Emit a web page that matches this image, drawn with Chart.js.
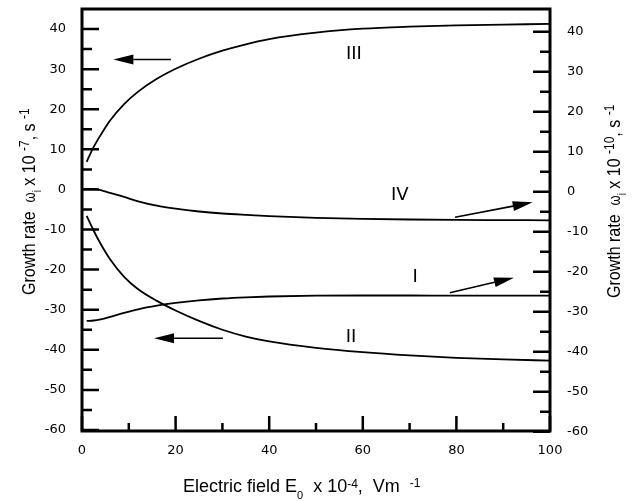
<!DOCTYPE html>
<html>
<head>
<meta charset="utf-8">
<script src="https://cdn.jsdelivr.net/npm/chart.js@4.4.0/dist/chart.umd.min.js"></script>
<style>
  html, body { margin: 0; padding: 0; background: #fff; }
</style>
</head>
<body>
<canvas id="growthChart" width="632" height="501"></canvas>
<script>
// values (E0 x 10^-4 V/m)
const field = [1, 2.5, 4, 6, 9, 12, 16, 20, 25, 30, 35, 40, 50, 60, 70, 80, 90, 100];
const curveII = [-6.6, -10.3, -13.6, -17.4, -21.8, -24.9, -27.8, -30.2, -32.8, -35.0, -36.7, -37.9, -39.5, -40.6, -41.4, -42.0, -42.4, -42.7];
const curveIII = [6.9, 10.6, 13.6, 17.2, 21.3, 24.4, 27.6, 30.1, 32.6, 34.6, 36.2, 37.5, 39.1, 40.1, 40.6, 40.9, 41.1, 41.3];
const curveI = [-32.3, -32.2, -31.9, -31.3, -30.3, -29.4, -28.5, -27.8, -27.15, -26.7, -26.4, -26.2, -26.0, -25.95, -25.95, -26.0, -26.0, -26.0];
const fieldIV = [0.3, 2.5, 4, 6, 9, 12, 16, 20, 25, 30, 35, 40, 50, 60, 70, 80, 90, 100];
const curveIV = [0.7, 0.7, 0.4, -0.3, -1.3, -2.4, -3.5, -4.25, -4.95, -5.45, -5.8, -6.1, -6.55, -6.8, -6.95, -7.05, -7.1, -7.15];

// axis ticks
const xMajor = [0, 20, 40, 60, 80, 100];
const xMinor = [10, 30, 50, 70, 90];
const yMajor = [-60, -50, -40, -30, -20, -10, 0, 10, 20, 30, 40];
const yMinor = [-55, -45, -35, -25, -15, -5, 5, 15, 25, 35];

// curve labels and arrows, in data units
const curveLabels = [
  { text: 'III', x: 58.1, y: 33.8, axis: 'yLeft' },
  { text: 'IV', x: 67.9, y: -0.8, axis: 'yRight' },
  { text: 'I', x: 71.2, y: -21.3, axis: 'yRight' },
  { text: 'II', x: 57.5, y: -36.8, axis: 'yLeft' }
];
const arrows = [
  { from: [19.0, 32.4], to: [6.7, 32.4], axis: 'yLeft' },
  { from: [30.1, -37.1], to: [15.4, -37.1], axis: 'yLeft' },
  { from: [79.7, -6.4], to: [96.3, -2.65], axis: 'yRight' },
  { from: [78.6, -25.25], to: [92.3, -21.5], axis: 'yRight' }
];

const FONT = 'DejaVu Sans';
const TITLE_FONT = 'Liberation Sans';

function toPoints(xs, ys) {
  return xs.map((v, i) => ({ x: v, y: ys[i] }));
}

function richText(ctx, parts) {
  let cx = 0;
  for (const p of parts) {
    ctx.font = p.size + 'px ' + TITLE_FONT;
    ctx.fillText(p.text, cx, p.dy || 0);
    cx += ctx.measureText(p.text).width;
  }
}

function drawArrow(ctx, x0, y0, x1, y1) {
  const ang = Math.atan2(y1 - y0, x1 - x0);
  const head = 20, half = 5;
  const bx = x1 - head * Math.cos(ang), by = y1 - head * Math.sin(ang);
  ctx.beginPath();
  ctx.moveTo(x0, y0);
  ctx.lineTo(bx, by);
  ctx.stroke();
  ctx.beginPath();
  ctx.moveTo(x1, y1);
  ctx.lineTo(bx + half * Math.sin(ang), by - half * Math.cos(ang));
  ctx.lineTo(bx - half * Math.sin(ang), by + half * Math.cos(ang));
  ctx.closePath();
  ctx.fill();
}

function yTitleParts(exp) {
  return [
    { text: 'Growth rate  ', size: 16 },
    { text: 'ω', size: 13 },
    { text: 'i', size: 10, dy: 5 },
    { text: ' x 10 ', size: 16 },
    { text: exp, size: 12, dy: -5 },
    { text: ', s ', size: 16 },
    { text: '-1', size: 12, dy: -5 }
  ];
}

const inkPlugin = {
  id: 'ink',
  afterDraw(chart) {
    const { ctx, chartArea: a, scales } = chart;
    const xs = scales.x;
    ctx.save();
    ctx.strokeStyle = '#000';
    ctx.fillStyle = '#000';

    // frame
    ctx.lineWidth = 3;
    ctx.strokeRect(a.left, a.top, a.right - a.left, a.bottom - a.top);

    // inward ticks
    ctx.lineWidth = 2.5;
    ctx.beginPath();
    const yTick = (v, len) => {
      let py = scales.yLeft.getPixelForValue(v);
      ctx.moveTo(a.left, py); ctx.lineTo(a.left + len, py);
      py = scales.yRight.getPixelForValue(v);
      ctx.moveTo(a.right, py); ctx.lineTo(a.right - len, py);
    };
    yMajor.forEach(v => yTick(v, 17));
    yMinor.forEach(v => yTick(v, 10));
    const xTick = (v, len) => {
      const px = xs.getPixelForValue(v);
      ctx.moveTo(px, a.bottom); ctx.lineTo(px, a.bottom - len);
    };
    xMajor.forEach(v => xTick(v, 15));
    xMinor.forEach(v => xTick(v, 8));
    ctx.stroke();

    // arrows
    ctx.lineWidth = 1.6;
    arrows.forEach(ar => {
      const ys = scales[ar.axis];
      drawArrow(ctx,
        xs.getPixelForValue(ar.from[0]), ys.getPixelForValue(ar.from[1]),
        xs.getPixelForValue(ar.to[0]), ys.getPixelForValue(ar.to[1]));
    });

    // curve labels
    ctx.font = '18px ' + FONT;
    ctx.textAlign = 'center';
    ctx.textBaseline = 'middle';
    curveLabels.forEach(l => {
      ctx.fillText(l.text, xs.getPixelForValue(l.x), scales[l.axis].getPixelForValue(l.y));
    });

    // axis titles
    ctx.textAlign = 'left';
    ctx.textBaseline = 'alphabetic';
    ctx.save();
    ctx.translate(183, 492);
    richText(ctx, [
      { text: 'Electric field E', size: 18 },
      { text: '0', size: 11, dy: 7 },
      { text: '  x 10', size: 18 },
      { text: '-4', size: 12, dy: -4 },
      { text: ',  Vm  ', size: 18 },
      { text: '-1', size: 12, dy: -5 }
    ]);
    ctx.restore();

    ctx.save();
    ctx.translate(35, 295);
    ctx.rotate(-Math.PI / 2);
    ctx.scale(1, 1.2);
    richText(ctx, yTitleParts('-7'));
    ctx.restore();

    ctx.save();
    ctx.translate(620, 298);
    ctx.rotate(-Math.PI / 2);
    ctx.scale(1, 1.2);
    richText(ctx, yTitleParts('-10'));
    ctx.restore();

    ctx.restore();
  }
};

const lineStyle = {
  borderColor: '#000',
  borderWidth: 1.8,
  pointRadius: 0,
  fill: false,
  cubicInterpolationMode: 'monotone'
};

const tickFont = { family: FONT, size: 13 };

function noPad(s) {
  s.paddingTop = 0;
  s.paddingBottom = 0;
  s.paddingLeft = 0;
  s.paddingRight = 0;
}

new Chart(document.getElementById('growthChart'), {
  type: 'line',
  data: {
    datasets: [
      { label: 'I', data: toPoints(field, curveI), yAxisID: 'yRight', ...lineStyle },
      { label: 'II', data: toPoints(field, curveII), yAxisID: 'yLeft', ...lineStyle },
      { label: 'III', data: toPoints(field, curveIII), yAxisID: 'yLeft', ...lineStyle },
      { label: 'IV', data: toPoints(fieldIV, curveIV), yAxisID: 'yRight', ...lineStyle }
    ]
  },
  options: {
    responsive: false,
    animation: false,
    layout: { padding: { top: 9, left: 0, right: 0, bottom: 0 } },
    plugins: { legend: { display: false }, tooltip: { enabled: false } },
    scales: {
      x: {
        type: 'linear',
        min: 0,
        max: 100,
        grid: { display: false, drawTicks: false },
        border: { display: false },
        afterBuildTicks: s => { s.ticks = xMajor.map(v => ({ value: v })); },
        afterFit: s => { s.height = 70; noPad(s); },
        ticks: { color: '#000', font: tickFont, padding: 12, maxRotation: 0 }
      },
      yLeft: {
        type: 'linear',
        position: 'left',
        min: -60.25,
        max: 45,
        grid: { display: false, drawTicks: false },
        border: { display: false },
        afterBuildTicks: s => { s.ticks = yMajor.map(v => ({ value: v })); },
        afterFit: s => { s.width = 82; noPad(s); },
        ticks: { color: '#000', font: tickFont, padding: 16 }
      },
      yRight: {
        type: 'linear',
        position: 'right',
        min: -59.83,
        max: 45.68,
        grid: { display: false, drawTicks: false },
        border: { display: false },
        afterBuildTicks: s => { s.ticks = yMajor.map(v => ({ value: v })); },
        afterFit: s => { s.width = 82; noPad(s); },
        ticks: { color: '#000', font: tickFont, padding: 17 }
      }
    }
  },
  plugins: [inkPlugin]
});
</script>
</body>
</html>
